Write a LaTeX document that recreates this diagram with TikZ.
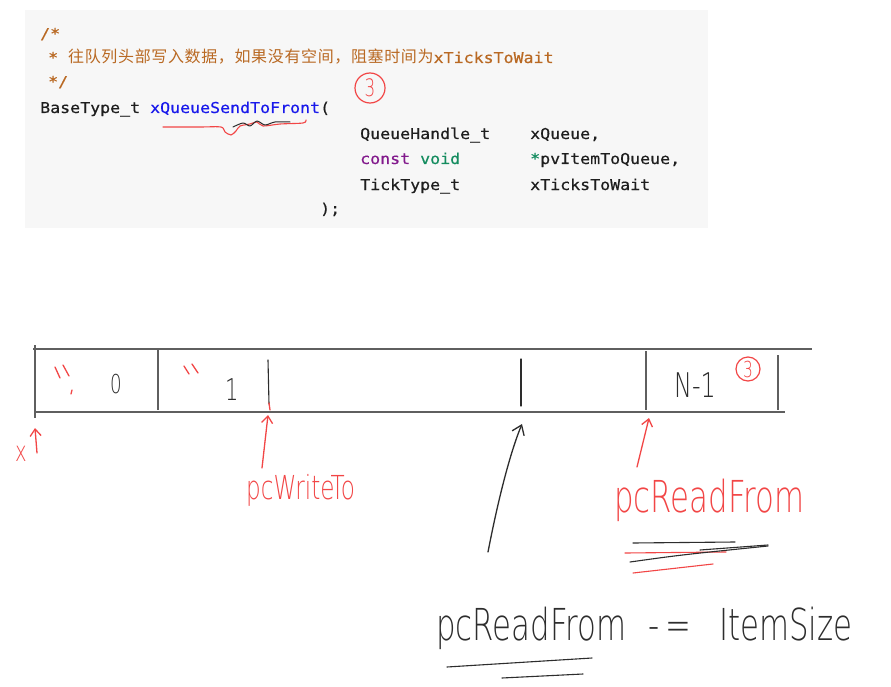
\documentclass[tikz,border=0pt]{standalone}
\usepackage{fontspec}
\usetikzlibrary{arrows.meta}
\newfontfamily\codefont{DejaVu Sans Mono}[FakeStretch=1.107,FakeBold=0.5]
\newfontfamily\cjkfont{Noto Sans CJK SC}[LetterSpace=4]
\newfontfamily\handfont{DejaVu Sans ExtraLight}[FakeStretch=0.7]
\definecolor{cmt}{RGB}{185,105,35}
\definecolor{fnblue}{RGB}{25,25,235}
\definecolor{kwpurple}{RGB}{130,25,140}
\definecolor{kwgreen}{RGB}{20,140,95}
\definecolor{codeblack}{RGB}{30,30,30}
\definecolor{codebg}{RGB}{247,247,247}
\definecolor{redink}{RGB}{242,70,70}
\definecolor{blackink}{RGB}{45,45,45}
\definecolor{qgray}{RGB}{95,95,95}
\tikzset{
  code/.style={font=\codefont\fontsize{15}{18}\selectfont, text=codeblack, inner sep=0pt, anchor=base west},
  redhand/.style={inner sep=0pt, anchor=base west, text=redink},
  blackhand/.style={inner sep=0pt, anchor=base west, text=blackink},
  qline/.style={draw=qgray, line width=1.2pt},
  redstroke/.style={draw=redink, line width=1.3pt, line cap=round, line join=round},
  blackstroke/.style={draw=blackink, line width=1.3pt, line cap=round, line join=round},
  redarrow/.style={redstroke, -{Straight Barb[length=7pt,width=11pt]}},
  blackarrow/.style={blackstroke, -{Straight Barb[length=9pt,width=13pt]}},
  circ/.style={circle, draw=redink, line width=1.2pt, inner sep=0pt, text=redink}
}
\begin{document}
\begin{tikzpicture}[x=1pt,y=-1pt]
\useasboundingbox (0,0) rectangle (891,687);
\fill[white] (0,0) rectangle (891,687);
% code box
\fill[codebg] (25,10) rectangle (708,228);
\node[code, text=cmt] (c1) at (40,39) {/*};
\node[code, text=cmt] (c2) at (48,63) {* {\cjkfont\fontsize{16}{18}\selectfont 往队列头部写入数据，如果没有空间，阻塞时间为}xTicksToWait};
\node[code, text=cmt] (c3) at (48,87) {*/};
\node[code] (c4) at (40,113) {BaseType\_t \textcolor{fnblue}{xQueueSendToFront}(};
\node[code] (p1a) at (360,139) {QueueHandle\_t};
\node[code] (p1b) at (530,139) {xQueue,};
\node[code] (p2a) at (360,164) {\textcolor{kwpurple}{const} \textcolor{kwgreen}{void}};
\node[code] (p2b) at (530,164) {\textcolor{kwgreen}{*}pvItemToQueue,};
\node[code] (p3a) at (360,190) {TickType\_t};
\node[code] (p3b) at (530,190) {xTicksToWait};
\node[code] (c8) at (320,214) {);};
% red annotations on code
\node[circ, minimum width=30pt, minimum height=27pt, font=\handfont\fontsize{24}{26}\selectfont] (n3a) at (370,88) {3};
\draw[redstroke, line width=1.1pt] plot[smooth] coordinates {(163,127) (200,127) (221,127) (225,132) (231,135) (236,131) (240,126) (250,124) (257,122) (263,126) (280,124) (303,123) (306,120)};
\draw[blackstroke, line width=1pt] plot[smooth] coordinates {(233,127) (243,123) (250,126) (257,121) (265,125) (275,122) (290,122)};
% queue
\draw[qline] (33,349) -- (812,349);
\draw[qline] (35,412) -- (785,412);
\draw[qline] (35,345) -- (35,418);
\draw[qline] (158,349) -- (158,410);
\draw[qline] (646,351) -- (646,410);
\draw[qline] (778,355) -- (778,410);
\draw[blackstroke, line width=1.1pt] (268,360) -- (269,404);
\draw[redstroke] (269,403) -- (270,410);
\draw[blackstroke, line width=1.1pt] (521,359) -- (521,406);
% cell marks
\draw[redstroke] (55,367) -- (60,378);
\draw[redstroke] (63,365) -- (69,376);
\draw[redstroke] (72,390) -- (71,394);
\draw[redstroke] (184,366) -- (189,374);
\draw[redstroke] (192,364) -- (198,373);
\node[blackhand, font=\handfont\fontsize{26}{28}\selectfont] (d0) at (110,393) {0};
\node[blackhand, font=\handfont\fontsize{30}{32}\selectfont] (d1) at (225,400) {1};
\node[blackhand, font=\handfont\fontsize{34}{36}\selectfont] (dn) at (674,397) {N-1};
\node[circ, minimum size=24pt, font=\handfont\fontsize{22}{24}\selectfont] (n3b) at (748,369) {3};
% left x marker
\node[redhand, font=\handfont\fontsize{28}{30}\selectfont] (xl) at (15,461) {x};
\coordinate (xtail) at (37,453);
\coordinate (xtip) at (35,428);
\draw[redarrow] (xtail) -- (xtip);
% pcWriteTo
\node[redhand, font=\handfont\fontsize{33}{35}\selectfont] (wlab) at (246,499) {pcWriteTo};
\coordinate (wtail) at (262,468);
\coordinate (wtip) at (268,415);
\draw[redarrow] (wtail) -- (wtip);
% middle black arrow
\coordinate (mtail) at (488,552);
\coordinate (mtip) at (522,424);
\draw[blackarrow] (mtail) .. controls (500,490) and (512,448) .. (mtip);
% pcReadFrom red
\node[redhand, font=\handfont\fontsize{44}{46}\selectfont] (rlab) at (614,512) {pcReadFrom};
\coordinate (rtail) at (637,467);
\coordinate (rtip) at (649,418);
\draw[redarrow] (rtail) -- (rtip);
\draw[blackstroke, line width=1.1pt] (633,543) -- (735,542);
\draw[redstroke, line width=1.1pt] (625,553) -- (726,552);
\draw[blackstroke, line width=1.1pt] (630,562) .. controls (680,555) .. (768,546);
\draw[blackstroke, line width=1.1pt] (700,550) -- (768,545);
\draw[redstroke, line width=1.1pt] (633,573) -- (713,564);
% bottom black text
\node[blackhand, font=\handfont\fontsize{44}{46}\selectfont] (blab) at (436,640) {pcReadFrom\hspace{22pt}-\hspace{6pt}=\hspace{28pt}ItemSize};
\draw[blackstroke, line width=1.1pt] (447,667) -- (592,658);
\draw[blackstroke, line width=1.1pt] (502,678) -- (583,674);
\end{tikzpicture}
\end{document}
